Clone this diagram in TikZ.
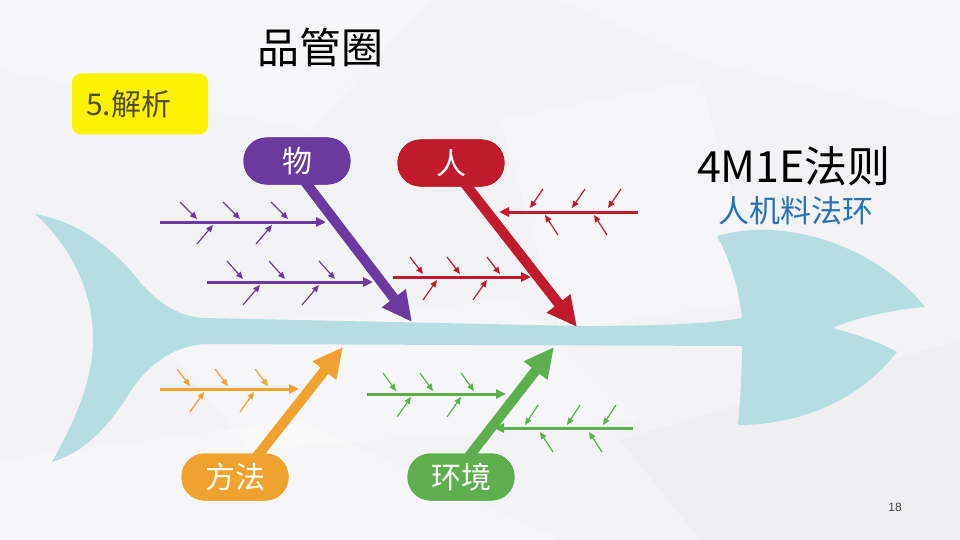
\documentclass[tikz,border=0pt]{standalone}
\usepackage{fontspec}
\setmainfont{Noto Sans CJK SC}
\newfontfamily\arialf{Liberation Sans}
\usetikzlibrary{arrows.meta,calc}
\definecolor{bgc}{RGB}{243,243,246}
\definecolor{fishc}{RGB}{182,222,226}
\definecolor{purc}{RGB}{106,58,158}
\definecolor{redc}{RGB}{192,26,44}
\definecolor{orac}{RGB}{239,162,46}
\definecolor{grnc}{RGB}{92,175,76}
\definecolor{bluec}{RGB}{38,115,184}
\definecolor{olivec}{RGB}{80,80,40}
\begin{document}
\begin{tikzpicture}[x=1pt,y=-1pt,
  bone/.style={line width=3pt,-{Triangle[length=10pt,width=9pt]}},
  twig/.style={line width=1.2pt,-{Triangle[length=7pt,width=6pt]}},
  bigarrow/.style={line width=10pt,-{Triangle[length=30pt,width=28pt]}},
  pill/.style={rounded corners=23pt,minimum width=107pt,minimum height=47pt,
    text=white,font=\fontsize{30}{30}\selectfont,inner sep=0pt},
  facet/.style={fill=white,opacity=0.3,draw=none}]
\useasboundingbox (0,0) rectangle (960,540);
% background
\fill[bgc] (0,0) rectangle (960,540);
\fill[facet] (0,0) -- (430,0) -- (310,130) -- (0,70) -- cycle;
\fill[facet] (560,0) -- (960,0) -- (960,120) -- (700,60) -- cycle;
\fill[facet] (150,330) -- (520,300) -- (640,420) -- (250,450) -- cycle;
\fill[facet] (500,120) -- (700,80) -- (760,300) -- (560,330) -- cycle;
\fill[white,opacity=0.25] (0,460) -- (300,420) -- (560,540) -- (0,540) -- cycle;
\fill[black,opacity=0.015] (620,440) -- (960,340) -- (960,540) -- (700,540) -- cycle;
% fish
\fill[fishc] (35,214) .. controls (80,222) and (115,250) .. (140,282)
  .. controls (160,305) and (180,317) .. (205,318)
  -- (580,326) .. controls (680,326) and (720,322) .. (742,318)
  .. controls (739,290) and (731,262) .. (717,236)
  .. controls (790,215) and (880,250) .. (925,307)
  .. controls (890,310) and (855,318) .. (833,328)
  .. controls (858,335) and (882,343) .. (897,352)
  .. controls (860,400) and (800,425) .. (738,425)
  .. controls (741,390) and (742,365) .. (742,346)
  -- (205,344) .. controls (175,346) and (150,362) .. (130,392)
  .. controls (110,425) and (85,452) .. (52,462)
  .. controls (75,420) and (94,380) .. (93,335)
  .. controls (92,290) and (70,245) .. (35,214) -- cycle;
% purple sub-bones
\begin{scope}[purc]
\draw[bone] (160,222) -- (326,222);
\foreach \t in {197,240,288} \draw[twig] (\t-17,202) -- (\t,219);
\foreach \t in {213,272} \draw[twig] (\t-16,244) -- (\t,225);
\draw[bone] (207,282) -- (373,282);
\foreach \t in {243,285,335} \draw[twig] (\t-16,261) -- (\t,279);
\foreach \t in {260,319} \draw[twig] (\t-17,305) -- (\t,285);
\end{scope}
% red sub-bones
\begin{scope}[redc]
\draw[bone] (393,277) -- (531,277);
\foreach \t in {423,460,500} \draw[twig] (\t-13,257) -- (\t,274);
\foreach \t in {437,487} \draw[twig] (\t-14,300) -- (\t,280);
\draw[bone] (638,212) -- (499,212);
\foreach \t in {530,572,608} \draw[twig] (\t+13,189) -- (\t,208);
\foreach \t in {545,594} \draw[twig] (\t+13,235) -- (\t,215);
\end{scope}
% orange sub-bone
\begin{scope}[orac]
\draw[bone] (160,389) -- (299,389);
\foreach \t in {190,228,268} \draw[twig] (\t-13,369) -- (\t,386);
\foreach \t in {204,254} \draw[twig] (\t-14,412) -- (\t,392);
\end{scope}
% green sub-bones
\begin{scope}[grnc]
\draw[bone] (367,394) -- (506,394);
\foreach \t in {396,433,474} \draw[twig] (\t-13,373) -- (\t,391);
\foreach \t in {411,461} \draw[twig] (\t-14,417) -- (\t,397);
\draw[bone] (633,428) -- (494,428);
\foreach \t in {525,567,603} \draw[twig] (\t+13,405) -- (\t,425);
\foreach \t in {540,589} \draw[twig] (\t+13,452) -- (\t,432);
\end{scope}
% pills
\node[pill,fill=purc] (wu) at (297,161) {物};
\node[pill,fill=redc] (ren) at (451,163) {人};
\node[pill,fill=orac] (ff) at (235,477) {方法};
\node[pill,fill=grnc] (hj) at (461,477) {环境};
% arrow tips
\coordinate (wuTip) at (412,322);
\coordinate (renTip) at (577,327);
\coordinate (ffTip) at (343,347);
\coordinate (hjTip) at (554,347);
\coordinate (wuS) at ($(wu.south)+(8,-3)$);
\coordinate (renS) at ($(ren.south)+(14,-3)$);
\coordinate (ffS) at ($(ff.north)+(22,3)$);
\coordinate (hjS) at ($(hj.north)+(8,3)$);
\draw[bigarrow,purc] (wuS) -- (wuTip);
\draw[bigarrow,redc] (renS) -- (renTip);
\draw[bigarrow,orac] (ffS) -- (ffTip);
\draw[bigarrow,grnc] (hjS) -- (hjTip);
% redraw pills on top
\node[pill,fill=purc] at (wu) {物};
\node[pill,fill=redc] at (ren) {人};
\node[pill,fill=orac] at (ff) {方法};
\node[pill,fill=grnc] at (hj) {环境};
% texts
\node[font=\fontsize{42}{42}\selectfont] (title) at (320,47) {品管圈};
\node[fill=yellow,rounded corners=9pt,minimum width=136pt,minimum height=61pt,
  inner sep=0pt] (sec) at (140,104) {};
\node[anchor=west,text=olivec,font=\fontsize{30}{30}\selectfont,inner sep=0pt]
  (secT) at (86,104) {5.解析};
\node[font=\fontsize{43}{43}\selectfont] (rule) at (794,166) {4M1E法则};
\node[text=bluec,font=\fontsize{31}{31}\selectfont] (rule2) at (796,211) {人机料法环};
\node[text=black!75,font=\arialf\fontsize{12}{12}\selectfont] (pg) at (895,507) {18};
\end{tikzpicture}
\end{document}
